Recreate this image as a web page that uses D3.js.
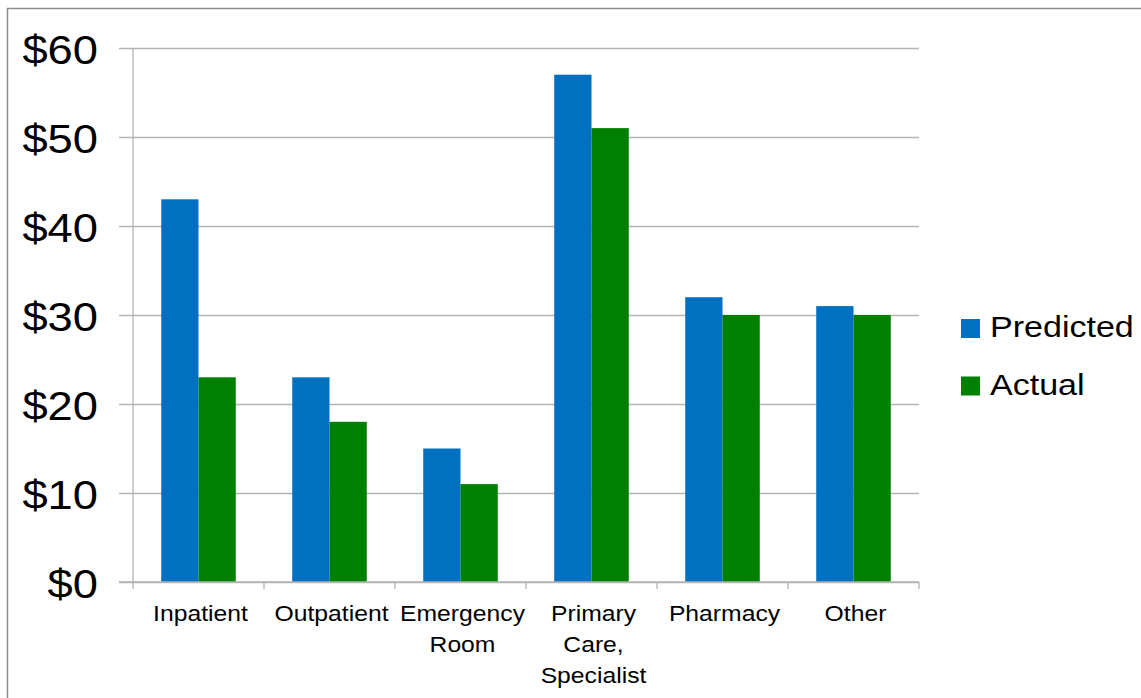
<!DOCTYPE html>
<html>
<head>
<meta charset="utf-8">
<script src="https://cdn.jsdelivr.net/npm/d3@7"></script>
<style>
  html, body { margin: 0; padding: 0; background: #fff; }
  svg { display: block; font-family: "Liberation Sans", Arial, sans-serif; }
</style>
</head>
<body>
<svg id="chart" width="1141" height="698"></svg>
<script>
// Spending per category, in dollars
const categories = ["Inpatient", "Outpatient", "Emergency Room", "Primary Care, Specialist", "Pharmacy", "Other"];
const seriesNames = ["Predicted", "Actual"];
const predicted = [43, 23, 15, 57, 32, 31];
const actual = [23, 18, 11, 51, 30, 30];
const yTicks = [0, 10, 20, 30, 40, 50, 60];
const colors = ["#0070c0", "#008000"];

// horizontal widening of the text glyphs
const SX_TICK = 1.105, SX_CAT = 1.075, SX_LEG = 1.135;

const svg = d3.select("#chart");

// outer frame
svg.append("rect")
  .attr("x", 7.5).attr("y", 8.5)
  .attr("width", 1200).attr("height", 800)
  .attr("fill", "none").attr("stroke", "#8c8c8c").attr("stroke-width", 1.5);

const plot = { left: 133, right: 919, top: 48, bottom: 582 };

const y = d3.scaleLinear().domain([0, 60]).range([plot.bottom, plot.top]);
const x = d3.scaleBand().domain(categories).range([plot.left, plot.right]).padding(0);
const xs = d3.scaleBand().domain(seriesNames)
  .range([x.bandwidth() * 0.2155, x.bandwidth() * 0.7845]).padding(0);

// horizontal gridlines + y tick labels
const gridLen = plot.right - 119;
const yAxis = d3.axisLeft(y).tickValues(yTicks).tickFormat(d => "$" + d)
  .tickSizeInner(gridLen).tickSizeOuter(0).tickPadding(21);
const yg = svg.append("g").attr("transform", `translate(${plot.right},0)`).call(yAxis);
yg.select(".domain").remove();
yg.selectAll(".tick line").attr("stroke", "#b3b3b3").attr("stroke-width", 1.3);
yg.selectAll(".tick text")
  .attr("x", 0).attr("dy", null)
  .attr("transform", `translate(${-gridLen - 21},15) scale(${SX_TICK},1)`)
  .attr("fill", "#000").attr("font-size", 41)
  .attr("font-family", "'Liberation Sans', Arial, sans-serif");

// bars
const rows = categories.map((c, i) => ({ cat: c, values: [predicted[i], actual[i]] }));
const groups = svg.append("g").selectAll("g").data(rows).join("g")
  .attr("transform", d => `translate(${x(d.cat)},0)`);
groups.selectAll("rect")
  .data(d => d.values.map((v, k) => ({ key: seriesNames[k], v, k })))
  .join("rect")
  .attr("x", d => xs(d.key))
  .attr("width", xs.bandwidth())
  .attr("y", d => y(d.v))
  .attr("height", d => y(0) - y(d.v))
  .attr("fill", d => colors[d.k]);

// y axis line
svg.append("line")
  .attr("x1", plot.left).attr("x2", plot.left)
  .attr("y1", plot.top).attr("y2", plot.bottom)
  .attr("stroke", "#b3b3b3").attr("stroke-width", 1.3);

// x axis line and tick marks at band boundaries
const xg = svg.append("g");
xg.append("line")
  .attr("x1", 119).attr("x2", plot.right)
  .attr("y1", plot.bottom).attr("y2", plot.bottom)
  .attr("stroke", "#b3b3b3").attr("stroke-width", 1.3);
const bounds = categories.map(c => x(c)).concat([x(categories[categories.length - 1]) + x.step()]);
xg.selectAll("line.tk").data(bounds).join("line").attr("class", "tk")
  .attr("x1", d => d).attr("x2", d => d)
  .attr("y1", plot.bottom).attr("y2", plot.bottom + 7)
  .attr("stroke", "#b3b3b3").attr("stroke-width", 1.3);

// category labels, wrapped to the band width
const labelSize = 23, lineGap = 31, maxW = x.step() - 4;
const measure = svg.append("text").attr("font-size", labelSize).attr("visibility", "hidden");
function wrap(str) {
  const words = str.split(" ");
  const lines = [];
  let cur = "";
  words.forEach(w => {
    const trial = cur ? cur + " " + w : w;
    measure.text(trial);
    if (cur && measure.node().getComputedTextLength() * SX_CAT > maxW) {
      lines.push(cur); cur = w;
    } else cur = trial;
  });
  if (cur) lines.push(cur);
  return lines;
}
categories.forEach(c => {
  const cx = x(c) + x.bandwidth() / 2 + 2;
  wrap(c).forEach((line, i) => {
    svg.append("text")
      .attr("transform", `translate(${cx},${621 + i * lineGap}) scale(${SX_CAT},1)`)
      .attr("text-anchor", "middle")
      .attr("font-size", labelSize)
      .attr("fill", "#000")
      .text(line);
  });
});
measure.remove();

// legend
const legend = svg.append("g");
seriesNames.forEach((name, k) => {
  const yy = 319 + k * 57.5;
  legend.append("rect")
    .attr("x", 961).attr("y", yy).attr("width", 19).attr("height", 19)
    .attr("fill", colors[k]);
  legend.append("text")
    .attr("transform", `translate(990,${yy + 18}) scale(${SX_LEG},1)`)
    .attr("font-size", 30)
    .attr("fill", "#000")
    .text(name);
});
</script>
</body>
</html>
